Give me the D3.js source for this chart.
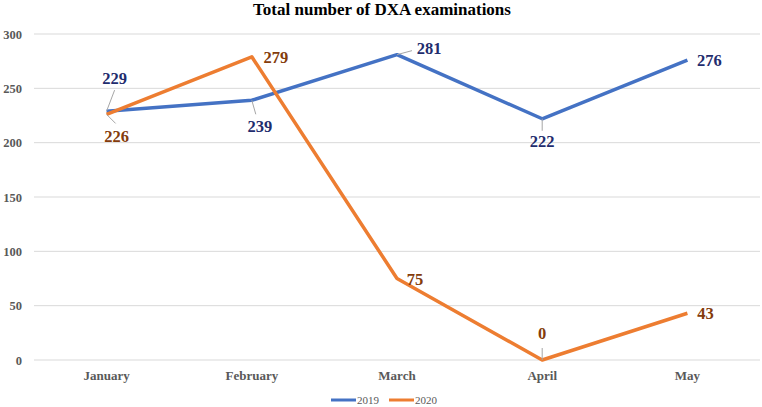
<!DOCTYPE html>
<html><head><meta charset="utf-8">
<script src="https://cdn.jsdelivr.net/npm/d3@7"></script>
<style>body{margin:0;background:#fff}</style>
</head><body>
<svg id="c" width="762" height="407"></svg>
<script>
const months = ["January","February","March","April","May"];
const s2019 = [229,239,281,222,276];
const s2020 = [226,279,75,0,43];
const yTicks = [0,50,100,150,200,250,300];
const seriesNames = ["2019","2020"];

const svg = d3.select("#c");
const W = 762, H = 407;
const m = {l:34, r:2, t:34, b:47};
const x = d3.scaleBand().domain(months).range([m.l, W-m.r]);
const y = d3.scaleLinear().domain([0,300]).range([H-m.b, m.t]);
const cx = d => x(d) + x.bandwidth()/2;
const font = "'Liberation Serif','Times New Roman',serif";

svg.append("text").attr("x",382).attr("y",15).attr("text-anchor","middle")
  .attr("font-family",font).attr("font-weight","bold").attr("font-size",17).attr("fill","#000")
  .text("Total number of DXA examinations");

// gridlines
svg.append("g").selectAll("line").data(yTicks).join("line")
  .attr("x1",m.l).attr("x2",W-m.r).attr("y1",d=>y(d)).attr("y2",d=>y(d))
  .attr("stroke","#d9d9d9").attr("stroke-width",1);

// y axis
const ya = svg.append("g").attr("transform",`translate(${m.l-12},0)`)
  .call(d3.axisLeft(y).tickValues(yTicks).tickSize(0).tickPadding(0));
ya.select(".domain").remove();
ya.selectAll("text").attr("font-family",font).attr("font-weight","bold").attr("font-size",12.5).attr("fill","#595959");

// x axis
const xa = svg.append("g").attr("transform",`translate(0,${y(0)+8})`)
  .call(d3.axisBottom(x).tickSize(0).tickPadding(0));
xa.select(".domain").remove();
xa.selectAll("text").attr("font-family",font).attr("font-weight","bold").attr("font-size",13).attr("fill","#595959").attr("dy","0.9em");

const line = d3.line().x((d,i)=>cx(months[i])).y(d=>y(d));
svg.append("path").datum(s2019).attr("d",line).attr("fill","none").attr("stroke","#4472c4").attr("stroke-width",3.5).attr("stroke-linejoin","round");
svg.append("path").datum(s2020).attr("d",line).attr("fill","none").attr("stroke","#ed7d31").attr("stroke-width",3.5).attr("stroke-linejoin","round");

// label offsets (dx, dy of label center relative to point), leader end
const off2019 = [[8,-33,[8,-21]],[8,26,[4,14]],[32,-6,[15,-4]],[0,23,[0,12]],[22,0,null]];
const off2020 = [[10,22,[9,9]],[24,1,null],[18,1,null],[0,-27,[0,-12]],[18,0,null]];

function labels(data, offs, color){
  data.forEach((v,i)=>{
    const px = cx(months[i]), py = y(v);
    const [dx,dy,lead] = offs[i];
    if(lead){
      svg.append("path").attr("d",`M${px},${py}L${px+lead[0]},${py+lead[1]}`).attr("stroke","#a6a6a6").attr("stroke-width",1).attr("fill","none");
    }
    svg.append("text").attr("x",px+dx).attr("y",py+dy).attr("text-anchor","middle").attr("dominant-baseline","central")
      .attr("font-family",font).attr("font-weight","bold").attr("font-size",16.5).attr("fill",color).text(v);
  });
}
labels(s2019, off2019, "#1f2d6e");
labels(s2020, off2020, "#843c0c");

// legend
const leg = [{n:seriesNames[0],c:"#4472c4",x:331},{n:seriesNames[1],c:"#ed7d31",x:389}];
leg.forEach(d=>{
  svg.append("line").attr("x1",d.x).attr("x2",d.x+25).attr("y1",400).attr("y2",400).attr("stroke",d.c).attr("stroke-width",3);
  svg.append("text").attr("x",d.x+26).attr("y",400).attr("dominant-baseline","central")
    .attr("font-family",font).attr("font-size",11).attr("fill","#595959").text(d.n);
});
</script>
</body></html>
